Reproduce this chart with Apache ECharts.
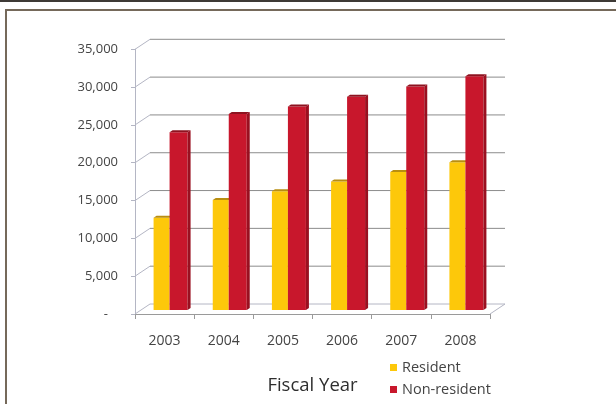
<!DOCTYPE html>
<html>
<head>
<meta charset="utf-8">
<script src="https://cdn.jsdelivr.net/npm/echarts@6/dist/echarts.min.js"></script>
<style>html,body{margin:0;padding:0;background:#fff;}#c{width:616px;height:404px;}</style>
</head>
<body>
<div id="c"></div>
<script>
var categories = ['2003', '2004', '2005', '2006', '2007', '2008'];
var resident = [12200, 14550, 15700, 17000, 18250, 19550];
var nonResident = [23500, 25900, 26900, 28200, 29550, 30900];
var yTicks = [0, 5000, 10000, 15000, 20000, 25000, 30000, 35000];

var DX = 15, DY = -10;      // depth offset of back wall
var OX = 6, OY = -4;        // bar front-face depth offset
var SD = 3, SDY = -2;       // bar side depth

var chart = echarts.init(document.getElementById('c'), null, {renderer: 'canvas'});

function gridRender(params, api) {
  var v = api.value(1);
  var p = api.coord([0, v]);
  var band = api.size([1, 0])[0];
  var left = p[0] - band / 2;
  var right = left + categories.length * band;
  var y = p[1];
  var kids = [
    {type: 'line', shape: {x1: left, y1: y, x2: left + DX, y2: y + DY},
     style: {stroke: '#b4b6c4', lineWidth: 1}},
    {type: 'line', shape: {x1: left + DX, y1: y + DY, x2: right + DX, y2: y + DY},
     style: {stroke: v === 0 ? '#b4b6c4' : '#8c8c8c', lineWidth: 1}}
  ];
  if (v === 0) {
    kids.push({type: 'line', shape: {x1: right, y1: y, x2: right + DX, y2: y + DY},
      style: {stroke: '#b4b6c4', lineWidth: 1}});
  }
  return {type: 'group', children: kids};
}

function barRender(x0, x1, face, side, cap, showSide) {
  return function (params, api) {
    var top = api.coord([api.value(0), api.value(1)]);
    var base = api.coord([api.value(0), 0]);
    var cx = top[0] + OX;
    var xl = cx + x0, xr = cx + x1;
    var yt = top[1] + OY, yb = base[1] + OY;
    var kids = [
      {type: 'rect', shape: {x: xl, y: yt, width: xr - xl, height: yb - yt},
       style: {fill: face}},
      {type: 'polygon', shape: {points: [[xl, yt], [xr, yt], [xr + SD, yt + SDY], [xl + SD, yt + SDY]]},
       style: {fill: cap}}
    ];
    if (showSide) {
      kids.push({type: 'polygon', shape: {points: [[xr, yt], [xr + SD, yt + SDY], [xr + SD, yb + SDY], [xr, yb]]},
        style: {fill: side}});
    }
    return {type: 'group', children: kids};
  };
}

var option = {
  backgroundColor: '#ffffff',
  animation: false,
  textStyle: {fontFamily: 'Open Sans'},
  grid: {left: 135, right: 126, top: 49.3, bottom: 90, containLabel: false},
  xAxis: {
    type: 'category',
    data: categories,
    name: 'Fiscal Year',
    nameLocation: 'middle',
    nameGap: 62,
    nameTextStyle: {fontSize: 18.5, color: '#2e2e2e', fontFamily: 'Open Sans'},
    axisLine: {show: true, lineStyle: {color: '#9a9a9a', width: 1}},
    axisTick: {show: true, length: 5, lineStyle: {color: '#9a9a9a'}},
    axisLabel: {fontSize: 14, color: '#444', margin: 20, fontFamily: 'Open Sans'},
    splitLine: {show: false}
  },
  yAxis: {
    type: 'value',
    min: 0,
    max: 35000,
    interval: 5000,
    axisLine: {show: true, lineStyle: {color: '#b4b6c4', width: 1}},
    axisTick: {show: true, length: 4, lineStyle: {color: '#b4b6c4'}},
    axisLabel: {
      fontSize: 13, color: '#444', margin: 17, fontFamily: 'Open Sans',
      formatter: function (v) { return v === 0 ? '-   ' : v.toLocaleString('en-US'); }
    },
    splitLine: {show: false}
  },
  legend: {
    orient: 'vertical',
    left: 385,
    top: 355,
    itemWidth: 7,
    itemHeight: 7,
    itemGap: 7,
    icon: 'rect',
    textStyle: {fontSize: 14.5, color: '#444', fontFamily: 'Open Sans', padding: [0, 0, 0, 0]},
    data: ['Resident', 'Non-resident']
  },
  graphic: [
    {type: 'line', shape: {x1: 0, y1: 1, x2: 616, y2: 1}, style: {stroke: '#3e3a36', lineWidth: 2}},
    {type: 'rect', shape: {x: 6, y: 10, width: 640, height: 420}, style: {fill: 'none', stroke: '#75695a', lineWidth: 2}}
  ],
  series: [
    {
      type: 'custom', name: 'grid', silent: true, z: 1,
      data: yTicks.map(function (v) { return [0, v]; }),
      encode: {x: 0, y: 1},
      renderItem: gridRender
    },
    {
      type: 'custom', name: 'Resident', z: 3,
      itemStyle: {color: '#FDC80A'},
      data: resident.map(function (v, i) { return [i, v]; }),
      encode: {x: 0, y: 1},
      renderItem: barRender(-17, -1, '#FDC80A', '#c99a08', '#b98e10', false)
    },
    {
      type: 'custom', name: 'Non-resident', z: 4,
      itemStyle: {color: '#C8172C'},
      data: nonResident.map(function (v, i) { return [i, v]; }),
      encode: {x: 0, y: 1},
      renderItem: barRender(-1, 17, '#C8172C', '#9a1020', '#8e1320', true)
    }
  ]
};
chart.setOption(option);
</script>
</body>
</html>
